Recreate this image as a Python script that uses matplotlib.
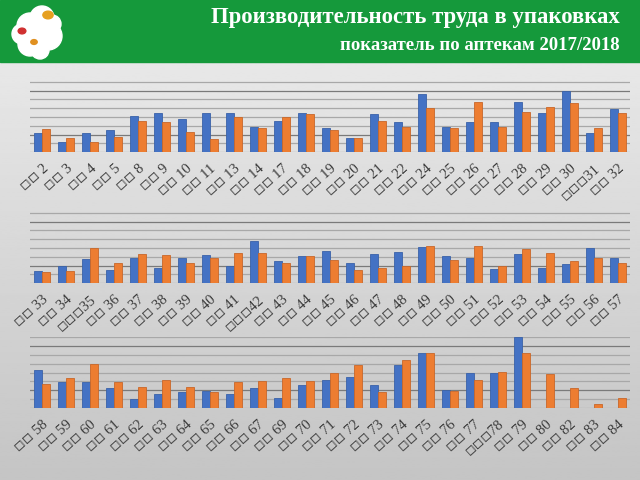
import matplotlib.pyplot as plt
import numpy as np
from matplotlib.patches import Rectangle, Circle, Ellipse

# pharmacy numbers per panel
labels_1 = ["2", "3", "4", "5", "8", "9", "10", "11", "13", "14", "17", "18", "19",
            "20", "21", "22", "24", "25", "26", "27", "28", "29", "30", "31", "32"]
v2017_1 = [2.23, 1.19, 2.15, 2.54, 4.08, 4.42, 3.81, 4.42, 4.46, 2.92, 3.50, 4.46, 2.77,
           1.62, 4.31, 3.46, 6.65, 2.92, 3.46, 3.42, 5.69, 4.46, 6.92, 2.23, 4.92]
v2018_1 = [2.65, 1.65, 1.12, 1.77, 3.58, 3.46, 2.35, 1.50, 3.96, 2.77, 4.04, 4.38, 2.54,
           1.62, 3.58, 2.92, 5.00, 2.73, 5.65, 2.92, 4.62, 5.08, 5.54, 2.73, 4.42]

labels_2 = ["33", "34", "35", "36", "37", "38", "39", "40", "41", "42", "43", "44", "45",
            "46", "47", "48", "49", "50", "51", "52", "53", "54", "55", "56", "57"]
v2017_2 = [1.43, 1.96, 2.79, 1.51, 2.87, 1.74, 2.87, 3.21, 2.00, 4.79, 2.49, 3.13, 3.66,
           2.30, 3.32, 3.51, 4.08, 3.13, 2.87, 1.66, 3.32, 1.70, 2.19, 4.00, 2.87]
v2018_2 = [1.32, 1.43, 4.00, 2.34, 3.28, 3.21, 2.34, 2.91, 3.40, 3.43, 2.34, 3.13, 2.66,
           1.47, 1.74, 1.92, 4.23, 2.60, 4.26, 1.92, 3.85, 3.40, 2.57, 2.83, 2.26]

labels_3 = ["58", "59", "60", "61", "62", "63", "64", "65", "66", "67", "69", "70", "71",
            "72", "73", "74", "75", "76", "77", "78", "79", "80", "82", "83", "84"]
v2017_3 = [4.25, 2.93, 2.93, 2.22, 0.98, 1.62, 1.77, 1.95, 1.62, 2.26, 1.13, 2.56, 3.12,
           3.53, 2.63, 4.85, 6.17, 2.07, 3.91, 3.91, 7.97, np.nan, np.nan, np.nan, np.nan]
v2018_3 = [2.67, 3.38, 4.96, 2.89, 2.33, 3.13, 2.33, 1.77, 2.97, 3.08, 3.38, 3.00, 3.95,
           4.89, 1.84, 5.41, 6.20, 1.92, 3.16, 4.10, 6.17, 3.83, 2.22, 0.49, 1.13]

# labels written without a space show an extra missing glyph
no_space = {"31", "35", "42", "78"}

BLUE = "#4472c4"
ORANGE = "#ed7d31"

fig = plt.figure(figsize=(6.4, 4.8), dpi=100)

# background gradient
bg = fig.add_axes([0, 0, 1, 1])
grad = np.linspace(0.93, 0.77, 256).reshape(-1, 1)
bg.imshow(grad, cmap="gray", vmin=0, vmax=1, aspect="auto", extent=[0, 1, 0, 1])
bg.set_xlim(0, 1)
bg.set_ylim(0, 1)
bg.axis("off")

# green header
bg.add_patch(Rectangle((0, 1 - 62 / 480), 1, 62 / 480, color="#15993b", zorder=2))
# logo cloud
for cx, cy, r in [(30, 26, 13), (42, 18, 12), (48, 36, 14), (30, 44, 12),
                  (22, 34, 10), (52, 24, 9), (40, 50, 9)]:
    bg.add_patch(Ellipse((cx / 640, 1 - cy / 480), 2 * r / 640, 2 * r / 480,
                         color="white", zorder=3))
bg.add_patch(Circle((48 / 640, 1 - 15 / 480), 0.008, color="#e6a020", zorder=4))
bg.add_patch(Circle((22 / 640, 1 - 31 / 480), 0.006, color="#d03030", zorder=4))
bg.add_patch(Circle((34 / 640, 1 - 42 / 480), 0.005, color="#e09020", zorder=4))
bg.text(620 / 640, 1 - 18 / 480, "Производительность труда в упаковках",
        ha="right", va="center", color="white", fontsize=16.4, fontweight="bold",
        family="Liberation Serif", zorder=5)
bg.text(620 / 640, 1 - 46 / 480, "показатель по аптекам 2017/2018",
        ha="right", va="center", color="white", fontsize=13.5, fontweight="bold",
        family="Liberation Serif", zorder=5)

panels = [
    (labels_1, v2017_1, v2018_1, 81.3, 152.3),
    (labels_2, v2017_2, v2018_2, 212.3, 283.3),
    (labels_3, v2017_3, v2018_3, 336.7, 408.0),
]

w = 0.345
for labels, a, b, top, base in panels:
    ax = fig.add_axes([30 / 640, 1 - base / 480, 600 / 640, (base - top) / 480])
    ax.patch.set_alpha(0)
    x = np.arange(len(labels))
    for lvl in range(0, 9):
        col = "#7a7a7a" if lvl in (2, 7) else "#a8a8a8"
        ax.axhline(lvl, color=col, lw=0.9, zorder=1)
    ax.bar(x - w / 2, a, w, color=BLUE, edgecolor="#3a62a8", lw=0.6, zorder=3)
    ax.bar(x + w / 2, b, w, color=ORANGE, edgecolor="#c8672a", lw=0.6, zorder=3)
    ax.set_xlim(-0.5, len(labels) - 0.5)
    ax.set_ylim(0, 8.05)
    ax.set_xticks(x)
    ticks = [("◽◽◽" if s in no_space else "◽◽ ") + s for s in labels]
    ax.set_xticklabels(ticks, rotation=42, ha="right", rotation_mode="anchor",
                       family=["Liberation Serif", "DejaVu Sans"], fontsize=10.5,
                       color="#3a3a3a")
    ax.tick_params(axis="x", length=0, pad=7)
    ax.set_yticks([])
    for s in ax.spines.values():
        s.set_visible(False)

fig.savefig("out.png", dpi=100)
